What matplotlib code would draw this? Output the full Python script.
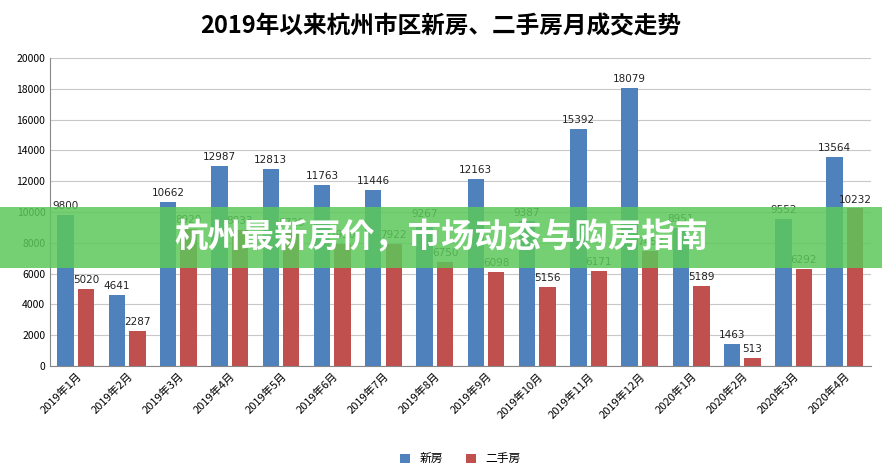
import matplotlib

matplotlib.use("Agg")
import matplotlib.pyplot as plt
import numpy as np
from matplotlib import font_manager
from matplotlib.patches import Rectangle

cjk = [f.name for f in font_manager.fontManager.ttflist if "CJK" in f.name]
cjk_name = "Noto Sans CJK SC" if "Noto Sans CJK SC" in cjk else (cjk[0] if cjk else "DejaVu Sans")
plt.rcParams["font.family"] = "sans-serif"
plt.rcParams["font.sans-serif"] = [cjk_name, "DejaVu Sans"]

BLUE = "#4f81bd"
RED = "#c0504d"

months = ["2019年1月", "2019年2月", "2019年3月", "2019年4月", "2019年5月", "2019年6月",
          "2019年7月", "2019年8月", "2019年9月", "2019年10月", "2019年11月", "2019年12月",
          "2020年1月", "2020年2月", "2020年3月", "2020年4月"]
new_homes = [9800, 4641, 10662, 12987, 12813, 11763, 11446, 9267, 12163, 9387,
             15392, 18079, 8951, 1463, 9552, 13564]
resale = [5020, 2287, 8920, 8833, 8729, 7950, 7922, 6750, 6098, 5156,
          6171, 7450, 5189, 513, 6292, 10232]

fig = plt.figure(figsize=(8.82, 4.76), dpi=100)
ax = fig.add_axes([0.057, 0.231, 0.93, 0.647])
x = np.arange(len(months))
w = 0.32
b1 = ax.bar(x - 0.2, new_homes, w, color=BLUE, label="新房")
b2 = ax.bar(x + 0.2, resale, w, color=RED, label="二手房")
for bars in (b1, b2):
    for r in bars:
        ax.text(r.get_x() + r.get_width() / 2, r.get_height() + 250, f"{int(r.get_height())}",
                ha="center", va="bottom", fontsize=7.5, color="#222222", family="DejaVu Sans")

ax.set_ylim(0, 20000)
ax.set_yticks(range(0, 20001, 2000))
ax.set_xlim(-0.5, len(months) - 0.5)
ax.set_xticks(x)
ax.set_xticklabels(months, rotation=45, ha="right", rotation_mode="anchor", fontsize=8)
ax.tick_params(axis="y", labelsize=7.5, length=0)
ax.tick_params(axis="x", length=0)
ax.yaxis.grid(True, color="#c8c8c8", lw=0.8)
ax.set_axisbelow(True)
for s in ("top", "right"):
    ax.spines[s].set_visible(False)
ax.spines["left"].set_color("#888888")
ax.spines["bottom"].set_color("#888888")

fig.text(0.5, 0.945, "2019年以来杭州市区新房、二手房月成交走势", ha="center", va="center",
         fontsize=17, fontweight="bold")
ax.legend(loc="upper center", bbox_to_anchor=(0.5, -0.245), ncol=2, frameon=False,
          fontsize=8.5, handlelength=0.8, handleheight=0.8)

fig.patches.append(Rectangle((0, 1 - 268 / 476), 1, 61 / 476, transform=fig.transFigure,
                             facecolor="#5cc85a", alpha=0.85, zorder=5))
fig.text(0.5, 1 - 238 / 476, "杭州最新房价，市场动态与购房指南", ha="center", va="center",
         fontsize=24, fontweight="bold", color="white", zorder=6)

fig.savefig("out.png", dpi=100, facecolor="white")
